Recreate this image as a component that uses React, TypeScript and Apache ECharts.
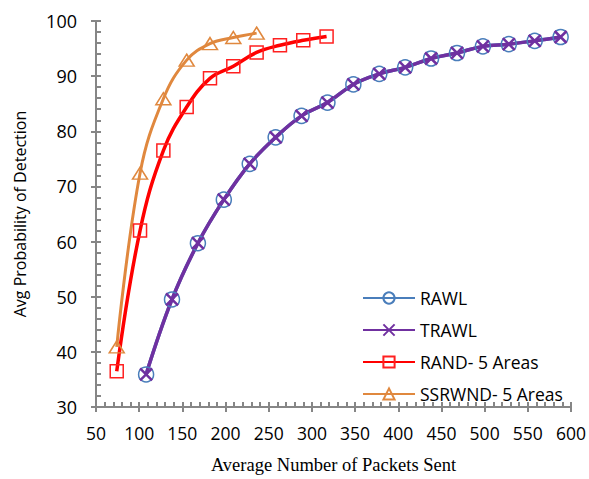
import React, { useEffect, useRef } from "react";
import * as echarts from "echarts";

const rawl: [number, number][] = [
  [108, 35.9], [138, 49.5], [168, 59.7], [198, 67.6], [228, 74.1], [258, 78.9],
  [288, 82.8], [318, 85.2], [348, 88.5], [378, 90.4], [408, 91.6], [438, 93.2],
  [468, 94.2], [498, 95.4], [528, 95.8], [558, 96.4], [588, 97.1],
];
const trawl: [number, number][] = [
  [108, 35.9], [138, 49.5], [168, 59.7], [198, 67.6], [228, 74.1], [258, 78.9],
  [288, 82.8], [318, 85.2], [348, 88.5], [378, 90.4], [408, 91.6], [438, 93.2],
  [468, 94.2], [498, 95.4], [528, 95.8], [558, 96.4], [588, 97.1],
];
const rand5: [number, number][] = [
  [74, 36.5], [101, 62.0], [128, 76.5], [155, 84.4], [182, 89.6], [209, 91.8],
  [236, 94.3], [263, 95.6], [290, 96.5], [317, 97.2],
];
const ssrwnd5: [number, number][] = [
  [74, 40.9], [101, 72.4], [128, 85.9], [155, 92.9], [182, 95.9], [209, 97.0],
  [236, 97.8],
];
const seriesNames = ["RAWL", "TRAWL", "RAND- 5 Areas", "SSRWND- 5 Areas"];

const FONT = "'Open Sans', 'Noto Sans', sans-serif";
const AXIS_GREY = "#868686";

export default function App() {
  const ref = useRef<HTMLDivElement>(null);
  useEffect(() => {
    if (!ref.current) return;
    const chart = echarts.init(ref.current, null, { renderer: "svg" });
    const axisLine = { show: true, lineStyle: { color: AXIS_GREY, width: 2 } };
    const baseX = { type: "value", min: 50, max: 600, interval: 50 } as any;
    const baseY = { type: "value", min: 30, max: 100, interval: 10 } as any;
    chart.setOption({
      animation: false,
      backgroundColor: "#ffffff",
      grid: { left: 96, right: 16, top: 21, bottom: 72 },
      legend: {
        orient: "vertical",
        left: 357,
        top: 284,
        itemWidth: 52,
        itemHeight: 14,
        itemGap: 14,
        textStyle: { fontFamily: FONT, fontSize: 17.5, color: "#000" },
        data: seriesNames,
      },
      xAxis: [
        {
          ...baseX,
          name: "Average Number of Packets Sent",
          nameLocation: "middle",
          nameGap: 48,
          nameTextStyle: { fontFamily: "'Liberation Serif', serif", fontSize: 18.5, color: "#000" },
          axisLine,
          axisTick: { show: true, inside: false, length: 5, lineStyle: { color: AXIS_GREY, width: 2 } },
          axisLabel: { fontFamily: FONT, fontSize: 17.5, color: "#000", margin: 17 },
          splitLine: { show: false },
        },
        {
          ...baseX,
          position: "bottom",
          axisLine: { show: false },
          axisTick: { show: true, inside: true, length: 5, lineStyle: { color: AXIS_GREY, width: 2 } },
          minorTick: { show: true, splitNumber: 5, length: 5, lineStyle: { color: AXIS_GREY, width: 2 } },
          axisLabel: { show: false },
          splitLine: { show: false },
        },
      ],
      yAxis: [
        {
          ...baseY,
          name: "Avg Probability of Detection",
          nameLocation: "middle",
          nameGap: 68,
          nameTextStyle: { fontFamily: FONT, fontSize: 16, color: "#000" },
          axisLine,
          axisTick: { show: true, inside: false, length: 5, lineStyle: { color: AXIS_GREY, width: 2 } },
          axisLabel: { fontFamily: FONT, fontSize: 18, color: "#000", margin: 19 },
          splitLine: { show: false },
        },
        {
          ...baseY,
          position: "left",
          axisLine: { show: false },
          axisTick: { show: true, inside: true, length: 5, lineStyle: { color: AXIS_GREY, width: 2 } },
          minorTick: { show: true, splitNumber: 5, length: 5, lineStyle: { color: AXIS_GREY, width: 2 } },
          axisLabel: { show: false },
          splitLine: { show: false },
        },
      ],
      series: [
        {
          name: seriesNames[0],
          type: "line",
          data: rawl,
          smooth: 0.4,
          symbol: "circle",
          symbolSize: 15,
          lineStyle: { color: "#4A7EBB", width: 3.5 },
          itemStyle: { color: "rgba(255,255,255,0)", borderColor: "#4A7EBB", borderWidth: 1.5 },
        },
        {
          name: seriesNames[1],
          type: "line",
          data: trawl,
          smooth: 0.4,
          symbol: "path://M0,0L10,10M10,0L0,10",
          symbolSize: 12,
          lineStyle: { color: "#7030A0", width: 3.5 },
          itemStyle: { color: "rgba(0,0,0,0)", borderColor: "#7030A0", borderWidth: 2.5 },
        },
        {
          name: seriesNames[2],
          type: "line",
          data: rand5,
          smooth: 0.4,
          symbol: "rect",
          symbolSize: 13,
          lineStyle: { color: "#FF0000", width: 3.5 },
          itemStyle: { color: "rgba(255,255,255,0)", borderColor: "#FF2020", borderWidth: 1.5 },
        },
        {
          name: seriesNames[3],
          type: "line",
          data: ssrwnd5,
          smooth: 0.4,
          symbol: "triangle",
          symbolSize: [15, 12],
          lineStyle: { color: "#E0883E", width: 3 },
          itemStyle: { color: "rgba(255,255,255,0)", borderColor: "#E0883E", borderWidth: 1.5 },
        },
      ],
    });
    return () => chart.dispose();
  }, []);
  return (
    <div
      ref={ref}
      style={{ position: "fixed", left: 0, top: 0, width: 589, height: 479 }}
    />
  );
}
